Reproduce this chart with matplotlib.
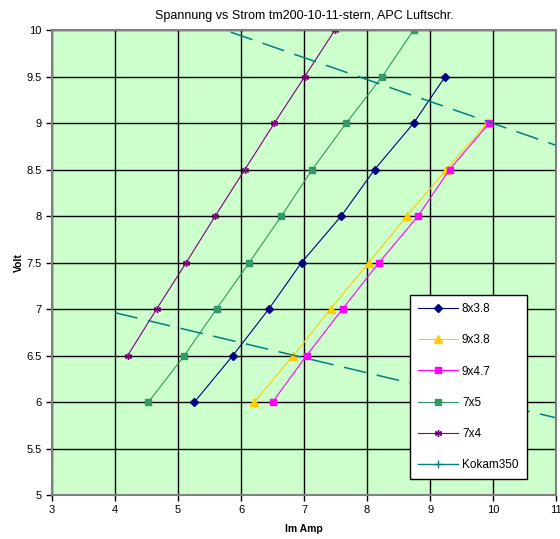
import numpy as np
import matplotlib
matplotlib.use("Agg")
from matplotlib import pyplot as plt
from matplotlib.lines import Line2D

plt.rcParams['font.family'] = ['Liberation Sans', 'DejaVu Sans']

# Messwerte: Strom (A) fuer jede Spannungsstufe (V)
volt_8x38 = [6, 6.5, 7, 7.5, 8, 8.5, 9, 9.5]
amp_8x38 = [5.26, 5.87, 6.44, 6.96, 7.59, 8.12, 8.74, 9.24]

volt_9x38 = [6, 6.5, 7, 7.5, 8, 8.5, 9]
amp_9x38 = [6.21, 6.83, 7.42, 8.03, 8.63, 9.26, 9.91]

volt_9x47 = [6, 6.5, 7, 7.5, 8, 8.5, 9]
amp_9x47 = [6.50, 7.04, 7.61, 8.19, 8.81, 9.31, 9.94]

volt_7x5 = [6, 6.5, 7, 7.5, 8, 8.5, 9, 9.5, 10]
amp_7x5 = [4.53, 5.10, 5.61, 6.13, 6.64, 7.13, 7.67, 8.24, 8.74]

volt_7x4 = [6.5, 7, 7.5, 8, 8.5, 9, 9.5, 10]
amp_7x4 = [4.20, 4.66, 5.13, 5.59, 6.06, 6.53, 7.01, 7.49]

# Akku-Kennlinie (3S und 2S), getrennt durch NaN
amp_kokam = [4, 11, np.nan, 4, 11]
volt_kokam = [10.41, 8.76, np.nan, 6.96, 5.83]

fig = plt.figure(figsize=(5.6, 5.39), dpi=100)
ax = fig.add_axes([0.093, 0.0816, 0.9, 0.8627])
ax.set_facecolor('#CCFFCC')

ax.plot(amp_8x38, volt_8x38, color='#000080', lw=0.8, marker='D', ms=4, label='8x3.8')
ax.plot(amp_9x38, volt_9x38, color='#FFCC00', lw=0.8, marker='^', ms=6, label='9x3.8')
ax.plot(amp_9x47, volt_9x47, color='#FF00FF', lw=0.8, marker='s', ms=5, label='9x4.7')
ax.plot(amp_7x5, volt_7x5, color='#339966', lw=0.8, marker='s', ms=5, label='7x5')
ax.plot(amp_7x4, volt_7x4, color='#800080', lw=0.8, marker=(6, 2, 0), ms=5, mew=1, label='7x4')
ax.plot(amp_kokam, volt_kokam, color='#008080', lw=1.1, ls=(0, (15, 7)))

handles, labels = ax.get_legend_handles_labels()
handles.append(Line2D([], [], color='#008080', lw=1, marker='+', ms=6))
labels.append('Kokam350')

ax.set_xlim(3, 11)
ax.set_ylim(5, 10)
ax.set_xticks(np.arange(3, 12, 1))
ax.set_yticks(np.arange(5, 10.5, 0.5))
ax.set_yticklabels(['5', '5.5', '6', '6.5', '7', '7.5', '8', '8.5', '9', '9.5', '10'])
ax.grid(True, color='black', lw=1)
ax.set_axisbelow(True)
ax.tick_params(labelsize=8, length=4, direction='out', width=1)
for s in ax.spines.values():
    s.set_color('#808080')
    s.set_linewidth(1.5)

ax.set_title('Spannung vs Strom tm200-10-11-stern, APC Luftschr.', fontsize=9, pad=8)
ax.set_xlabel('Im Amp', fontsize=7.5, fontweight='bold', labelpad=6)
ax.set_ylabel('Volt', fontsize=7.5, fontweight='bold', labelpad=2)

leg = ax.legend(handles, labels, loc='upper left', bbox_to_anchor=(0.71, 0.43),
                fontsize=8.5, labelspacing=1.62, handlelength=3.4, handletextpad=0.3,
                borderpad=0.7, borderaxespad=0, fancybox=False, framealpha=1,
                edgecolor='black')
leg.get_frame().set_linewidth(1)

fig.savefig('out.png', dpi=100)
